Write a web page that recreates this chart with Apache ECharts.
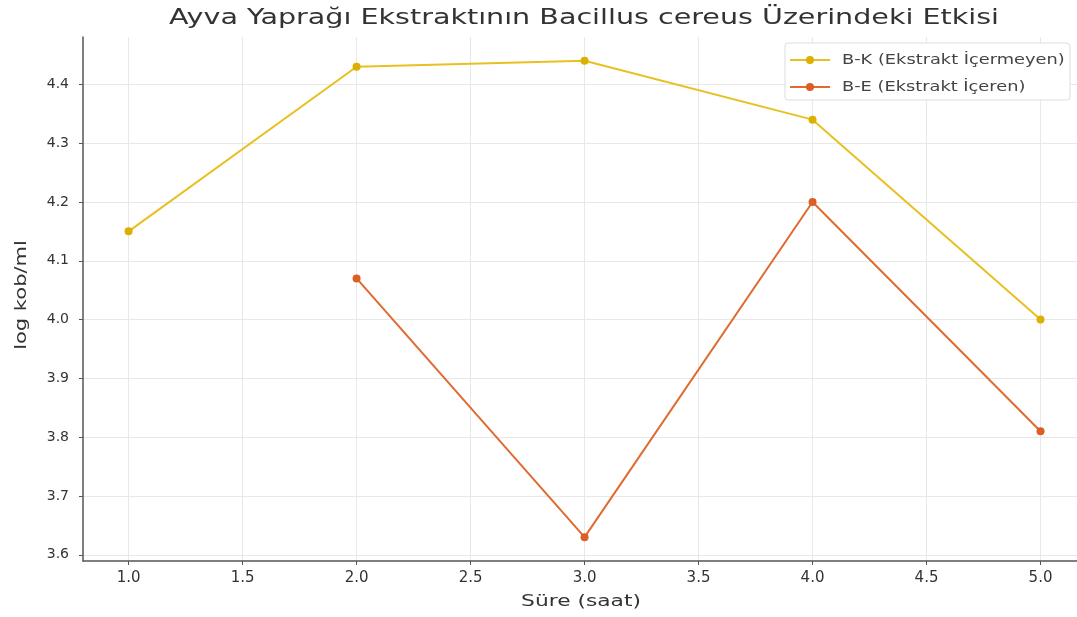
<!DOCTYPE html>
<html>
<head>
<meta charset="utf-8">
<script src="https://cdn.jsdelivr.net/npm/echarts@6/dist/echarts.min.js"></script>
<style>html,body{margin:0;padding:0;background:#fff;}#c{width:1077px;height:617px;}</style>
</head>
<body>
<div id="c"></div>
<script>
const titleText = "Ayva Yaprağı Ekstraktının Bacillus cereus Üzerindeki Etkisi";
const xName = "Süre (saat)";
const yName = "log kob/ml";
const seriesNames = ["B-K (Ekstrakt İçermeyen)", "B-E (Ekstrakt İçeren)"];
const bkData = [[1, 4.15], [2, 4.43], [3, 4.44], [4, 4.34], [5, 4.00]];
const beData = [[2, 4.07], [3, 3.63], [4, 4.20], [5, 3.81]];
const xTicks = [1.0, 1.5, 2.0, 2.5, 3.0, 3.5, 4.0, 4.5, 5.0];
const yTicks = [3.6, 3.7, 3.8, 3.9, 4.0, 4.1, 4.2, 4.3, 4.4];
const lineColors = ['#e8c020', '#e06a30'];
const markerColors = ['#dcb000', '#d95f24'];

const font = "DejaVu Sans";
const chart = echarts.init(document.getElementById('c'), null, {renderer: 'canvas'});

function stretchedText(text, x, y, size, sx, rot) {
  return {
    type: 'text', x: x, y: y, scaleX: sx, rotation: rot || 0, silent: true,
    style: {text: text, font: size + 'px "' + font + '"', fill: '#333',
            textAlign: 'center', textVerticalAlign: 'middle'}
  };
}

const legendRows = seriesNames.map((n, i) => ({
  type: 'group', x: 790, y: 60 + i * 27, silent: true, z: 11,
  children: [
    {type: 'line', z: 11, shape: {x1: 0, y1: 0, x2: 40, y2: 0}, style: {stroke: lineColors[i], lineWidth: 2}},
    {type: 'circle', z: 12, shape: {cx: 20, cy: 0, r: 4}, style: {fill: markerColors[i]}},
    {type: 'text', z: 11, x: 52, y: 0, scaleX: 1.27,
     style: {text: n, font: '14px "' + font + '"', fill: '#444', textAlign: 'left', textVerticalAlign: 'middle'}}
  ]
}));

chart.setOption({
  backgroundColor: '#fff',
  animation: false,
  legend: {show: false},
  grid: {left: 83, top: 37, right: 0, height: 524, containLabel: false},
  xAxis: {
    type: 'value', min: 0.8, max: 5.16,
    axisLine: {show: true, lineStyle: {color: '#555', width: 1.5}},
    axisTick: {show: true, length: 4, lineStyle: {color: '#555'}, customValues: xTicks},
    axisLabel: {fontFamily: font, fontSize: 15, color: '#333', margin: 10, customValues: xTicks,
      formatter: v => v.toFixed(1)},
    splitLine: {show: true, lineStyle: {color: '#e8e8e8', width: 1}}
  },
  yAxis: {
    type: 'value', min: 3.5895, max: 4.4805,
    axisLine: {show: true, lineStyle: {color: '#555', width: 1.5}},
    axisTick: {show: true, length: 4, lineStyle: {color: '#555'}, customValues: yTicks},
    axisLabel: {fontFamily: font, fontSize: 14, color: '#333', margin: 14, customValues: yTicks,
      formatter: v => v.toFixed(1)},
    splitLine: {show: true, lineStyle: {color: '#e8e8e8', width: 1}}
  },
  graphic: [
    stretchedText(titleText, 584, 19, 21, 1.36),
    stretchedText(xName, 581, 602, 15, 1.45),
    stretchedText(yName, 22, 295, 15, 1.4, Math.PI / 2),
    {type: 'rect', shape: {x: 785, y: 43, width: 285, height: 57, r: 3},
     style: {fill: '#fff', stroke: '#ddd', lineWidth: 1}, silent: true, z: 10},
    ...legendRows
  ],
  series: [
    {
      name: seriesNames[0], type: 'line', data: bkData,
      symbol: 'circle', symbolSize: 8,
      lineStyle: {color: lineColors[0], width: 2},
      itemStyle: {color: markerColors[0]}
    },
    {
      name: seriesNames[1], type: 'line', data: beData,
      symbol: 'circle', symbolSize: 8,
      lineStyle: {color: lineColors[1], width: 2},
      itemStyle: {color: markerColors[1]}
    }
  ]
});
</script>
</body>
</html>
